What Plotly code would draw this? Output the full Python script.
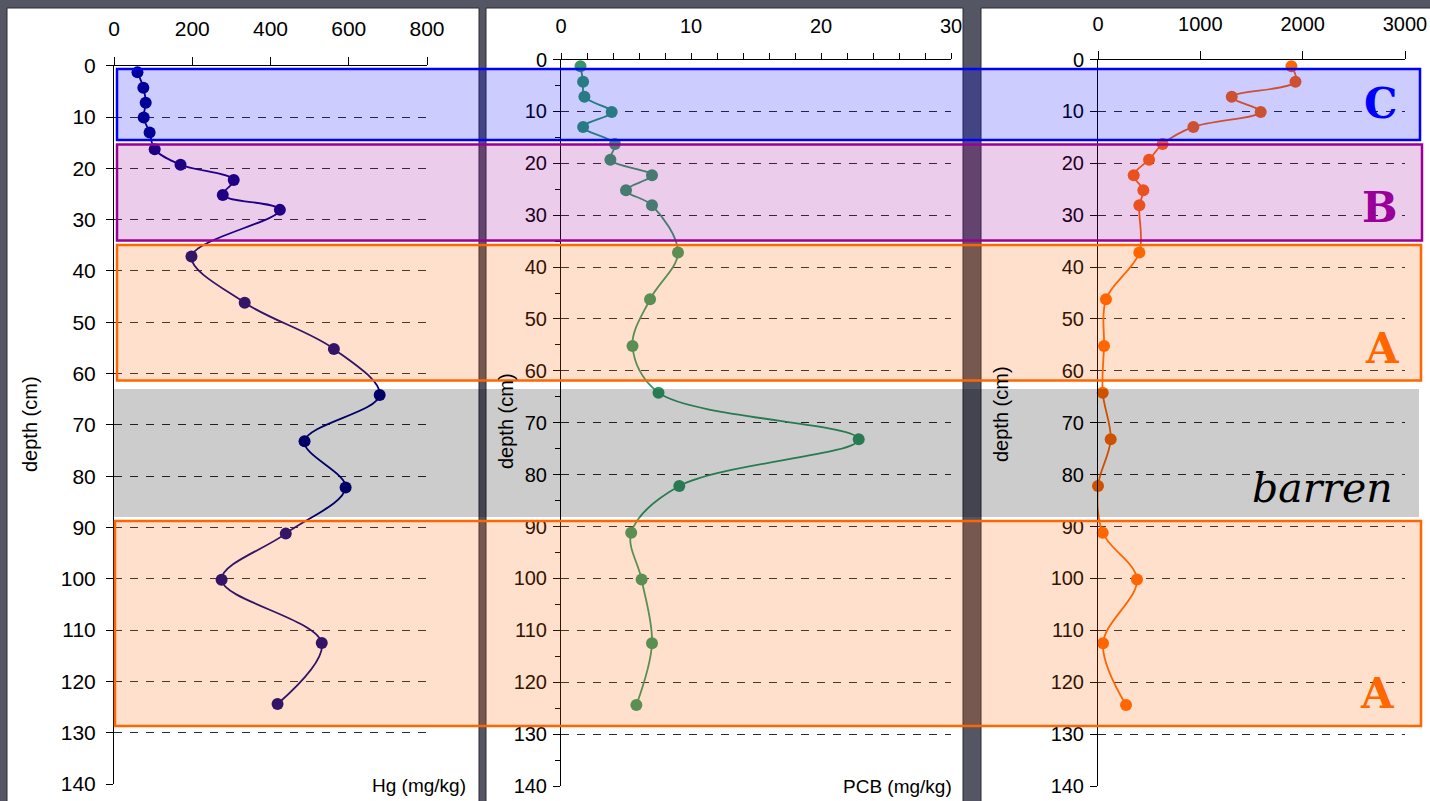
import plotly.graph_objects as go

W, H = 1430, 801

# Sample depths (cm) shared by all three profiles
depth_cm = [1.3, 4.3, 7.2, 10.1, 13.0, 16.3, 19.3, 22.3, 25.2, 28.1,
            37.2, 46.2, 55.2, 64.2, 73.2, 82.2, 91.2, 100.2, 112.5, 124.4]

# Concentration profiles
hg_mg_kg = [60, 75, 81, 76, 91, 104, 170, 306, 278, 424,
            198, 334, 562, 679, 487, 592, 439, 275, 531, 418]
pcb_mg_kg = [1.5, 1.7, 1.8, 3.9, 1.7, 4.15, 3.8, 7.0, 5.0, 7.0,
             9.0, 6.85, 5.5, 7.5, 22.9, 9.1, 5.4, 6.2, 7.0, 5.8]
third_profile = [1890, 1930, 1307, 1590, 932, 632, 499, 349, 443, 404,
                 404, 78, 59, 46, 124, 0, 46, 381, 49, 274]

depth_ticks = list(range(0, 141, 10))

# Zone labels
zone_labels = ["C", "B", "A", "A"]
barren_label = "barren"
depth_title = "depth (cm)"
hg_title = "Hg (mg/kg)"
pcb_title = "PCB (mg/kg)"


def px(x):
    return x / W


def py(y):
    return 1 - y / H


SANS = "Liberation Sans, Arial, sans-serif"
SERIF = "DejaVu Serif, serif"
GRID = dict(showgrid=True, gridcolor="#2a2a2a", gridwidth=1, griddash="8px,8px")

fig = go.Figure()

panels = [
    dict(x=hg_mg_kg, color="#000080", xa="x", ya="y"),
    dict(x=pcb_mg_kg, color="#339966", xa="x2", ya="y2"),
    dict(x=third_profile, color="#ff6600", xa="x3", ya="y3"),
]
for p in panels:
    fig.add_trace(go.Scatter(
        x=p["x"], y=depth_cm, xaxis=p["xa"], yaxis=p["ya"],
        mode="lines+markers",
        line=dict(color=p["color"], width=1.8, shape="spline", smoothing=1.0),
        marker=dict(color=p["color"], size=12),
        showlegend=False, cliponaxis=False,
    ))

common_x = dict(side="top", showline=True, linecolor="black", linewidth=1,
                ticks="outside", tickcolor="black", ticklen=8, showgrid=False,
                zeroline=False, automargin=False,
                tickfont=dict(family=SANS, size=20, color="black"))
common_y = dict(showline=True, linecolor="black", linewidth=1, range=[140, 0],
                ticks="outside", tickcolor="black", ticklen=7, zeroline=False,
                automargin=False, tickmode="array", tickvals=depth_ticks,
                tickfont=dict(family=SANS, size=20, color="black"), **GRID)

fig.update_layout(
    width=W, height=H,
    margin=dict(l=0, r=0, t=0, b=0, pad=0, autoexpand=False),
    paper_bgcolor="#545664",
    plot_bgcolor="rgba(0,0,0,0)",
    xaxis=dict(domain=[px(114), px(427)], range=[0, 800], anchor="y",
               tickmode="linear", tick0=0, dtick=200, ticklabelstandoff=12,
               **{**common_x, "tickfont": dict(family=SANS, size=21, color="black")}),
    yaxis=dict(domain=[py(784), py(65.7)], anchor="x", ticklabelstandoff=6,
               **{**common_y, "tickfont": dict(family=SANS, size=21, color="black")}),
    xaxis2=dict(domain=[px(561), px(951)], range=[0, 30], anchor="y2",
                tickmode="linear", tick0=0, dtick=10, ticklen=6, ticklabelstandoff=12,
                minor=dict(dtick=2, ticks="outside", ticklen=6, tickcolor="black"),
                **{k: v for k, v in common_x.items() if k != "ticklen"}),
    yaxis2=dict(domain=[py(786), py(59.5)], anchor="x2", ticklabelstandoff=2,
                minor=dict(dtick=5, ticks="outside", ticklen=5, tickcolor="black",
                           showgrid=False),
                **common_y),
    xaxis3=dict(domain=[px(1098), px(1405)], range=[0, 3000], anchor="y3",
                tickmode="linear", tick0=0, dtick=1000, ticklabelstandoff=12,
                **common_x),
    yaxis3=dict(domain=[py(786), py(59.5)], anchor="x3", ticklabelstandoff=2,
                **common_y),
)

shapes = []
# White slide panels behind each profile
for x0, x1 in [(7, 479), (486, 963), (981, 1440)]:
    shapes.append(dict(type="rect", xref="paper", yref="paper", layer="below",
                       x0=px(x0), x1=px(x1), y0=py(810), y1=py(8),
                       fillcolor="white", line=dict(color="#2b2b33", width=1)))

# Translucent zone bands laid over all three profiles
bands = [
    (117, 1420, 69, 140, "rgba(0,0,255,0.2)", "#0000ff", 2.5),
    (117, 1422, 144.5, 240.5, "rgba(153,0,153,0.2)", "#990099", 2.5),
    (117, 1421, 245, 380.5, "rgba(255,102,0,0.2)", "#ff6600", 2.5),
    (114, 1419, 389, 517, "rgba(0,0,0,0.2)", "rgba(0,0,0,0)", 0),
    (115, 1421, 521, 726, "rgba(255,102,0,0.2)", "#ff6600", 2.5),
]
for x0, x1, y0, y1, fill, lc, lw in bands:
    shapes.append(dict(type="rect", xref="paper", yref="paper", layer="above",
                       x0=px(x0), x1=px(x1), y0=py(y1), y1=py(y0),
                       fillcolor=fill, line=dict(color=lc, width=lw)))
fig.update_layout(shapes=shapes)


def label(text, x, y, font, angle=0):
    return dict(text=text, x=px(x), y=py(y), xref="paper", yref="paper",
                xanchor="center", yanchor="middle", showarrow=False,
                textangle=angle, font=font)


annotations = []
zone_pos = [(1380, 104, "#0000ff"), (1380, 208, "#990099"),
            (1382, 349, "#ff6600"), (1377, 693, "#ff6600")]
for text, (x, y, c) in zip(zone_labels, zone_pos):
    annotations.append(label(f"<b>{text}</b>", x, y,
                             dict(family=SERIF, size=42, color=c)))
annotations.append(label(f"<i>{barren_label}</i>", 1322, 488,
                         dict(family=SERIF, size=41, color="black")))
for x, y in [(30, 424), (506, 421), (1001, 414)]:
    annotations.append(label(depth_title, x, y,
                             dict(family=SANS, size=20, color="black"), -90))
annotations.append(label(hg_title, 419, 785,
                         dict(family=SANS, size=19, color="black")))
annotations.append(label(pcb_title, 897, 786,
                         dict(family=SANS, size=19, color="black")))
fig.update_layout(annotations=annotations)

fig.write_html("out.html")
